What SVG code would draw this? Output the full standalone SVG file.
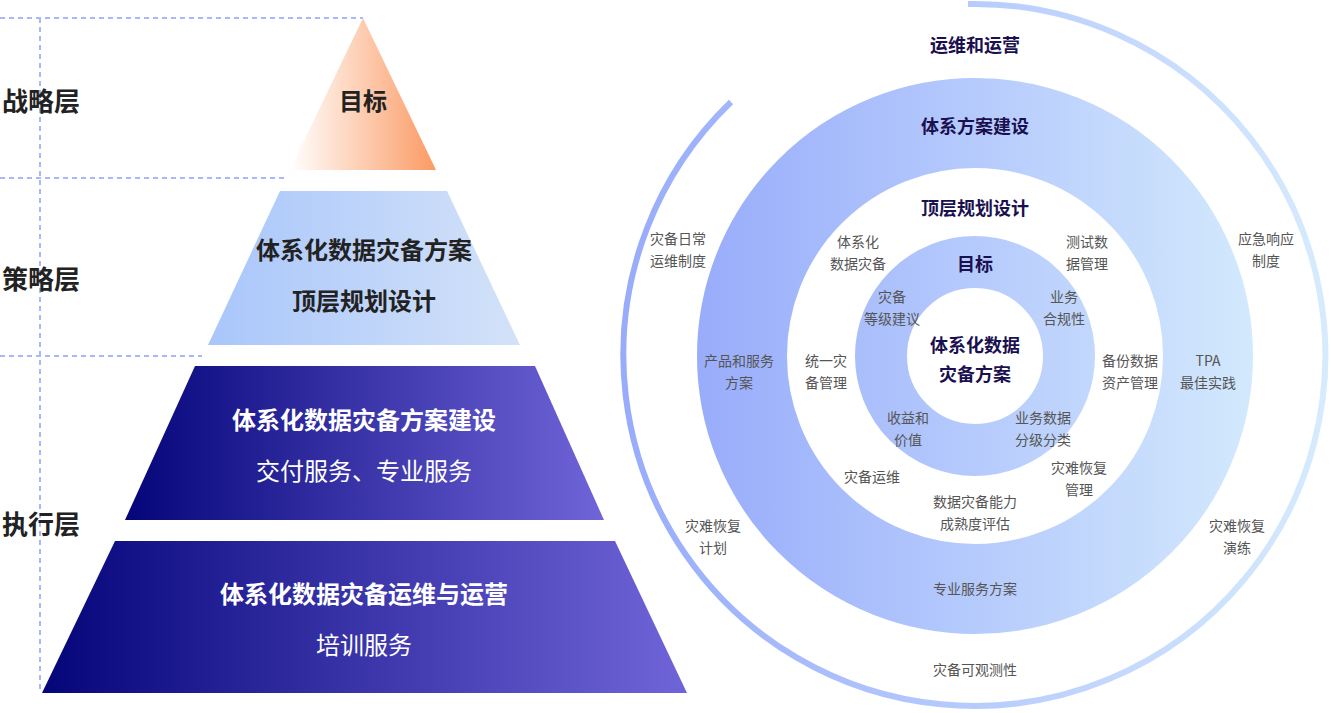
<svg xmlns="http://www.w3.org/2000/svg" width="1331" height="713" viewBox="0 0 1331 713">
<defs>
<linearGradient id="gOr" x1="0" y1="0" x2="1" y2="0"><stop offset="0" stop-color="#fff"/><stop offset="1" stop-color="#fb9a63"/></linearGradient>
<linearGradient id="gLb" x1="0" y1="0" x2="1" y2="0"><stop offset="0" stop-color="#a9c6fb"/><stop offset="1" stop-color="#d3e2f8"/></linearGradient>
<linearGradient id="gNv" x1="0" y1="0" x2="1" y2="0"><stop offset="0" stop-color="#05057a"/><stop offset="1" stop-color="#7065d8"/></linearGradient>
<linearGradient id="gRing" gradientUnits="userSpaceOnUse" x1="697" y1="0" x2="1253" y2="0"><stop offset="0" stop-color="#98acfb"/><stop offset="1" stop-color="#d3e9fd"/></linearGradient>
<linearGradient id="gArc" gradientUnits="userSpaceOnUse" x1="624" y1="0" x2="1326" y2="0"><stop offset="0" stop-color="#98acfb"/><stop offset="1" stop-color="#d6ebfd"/></linearGradient>
</defs>
<style>
.dash{stroke:#a9b8fa;stroke-width:2;stroke-dasharray:5 4;fill:none}
.lay{font:bold 26px "Noto Sans CJK SC",sans-serif;fill:#222}
.pt{font:bold 24px "Noto Sans CJK SC",sans-serif;text-anchor:middle}
.pn{font:24px "Noto Sans CJK SC",sans-serif;text-anchor:middle;fill:#fff}
.cb{font:bold 18px "Noto Sans CJK SC",sans-serif;text-anchor:middle;fill:#1a1050}
.cs{font:14px "Noto Sans CJK SC",sans-serif;text-anchor:middle;fill:#555}
</style>
<g id="guides">
<path class="dash" d="M0 18H363M0 178H287M0 356H202M40 18V693"/>
</g>
<g id="layer-labels">
<text class="lay" x="2" y="111">战略层</text>
<text class="lay" x="2" y="289">策略层</text>
<text class="lay" x="2" y="534">执行层</text>
</g>
<g id="pyr1"><polygon points="363,18 436,170 290,170" fill="url(#gOr)"/><text class="pt" x="363" y="110" fill="#222">目标</text></g>
<g id="pyr2"><polygon points="280,191 447,191 520,345 208,345" fill="url(#gLb)"/><text class="pt" x="364" y="259" fill="#222">体系化数据灾备方案</text><text class="pt" x="364" y="310" fill="#222">顶层规划设计</text></g>
<g id="pyr3"><polygon points="195,366 535,366 604,520 125,520" fill="url(#gNv)"/><text class="pt" x="364" y="429" fill="#fff">体系化数据灾备方案建设</text><text class="pn" x="364" y="480">交付服务、专业服务</text></g>
<g id="pyr4"><polygon points="115,541 615,541 687,693 42,693" fill="url(#gNv)"/><text class="pt" x="364" y="603" fill="#fff">体系化数据灾备运维与运营</text><text class="pn" x="364" y="654">培训服务</text></g>
<g id="outer-arc"><path d="M968 4A351 351 0 1 1 731 102" fill="none" stroke="url(#gArc)" stroke-width="6"/></g>
<g id="ring-outer"><circle cx="975" cy="356" r="233" fill="none" stroke="url(#gRing)" stroke-width="90"/></g>
<g id="ring-inner"><circle cx="975" cy="356" r="94" fill="none" stroke="url(#gRing)" stroke-width="52"/></g>
<g id="labels-outer">
<text class="cb" x="975" y="52">运维和运营</text>
<text class="cs" x="678" y="244">灾备日常</text><text class="cs" x="678" y="266">运维制度</text>
<text class="cs" x="1266" y="244">应急响应</text><text class="cs" x="1266" y="266">制度</text>
<text class="cs" x="713" y="531">灾难恢复</text><text class="cs" x="713" y="553">计划</text>
<text class="cs" x="1237" y="531">灾难恢复</text><text class="cs" x="1237" y="553">演练</text>
<text class="cs" x="975" y="675">灾备可观测性</text>
</g>
<g id="labels-ring">
<text class="cb" x="975" y="133">体系方案建设</text>
<text class="cs" x="739" y="366">产品和服务</text><text class="cs" x="739" y="388">方案</text>
<text class="cs" x="1208" y="366">TPA</text><text class="cs" x="1208" y="388">最佳实践</text>
<text class="cs" x="975" y="594">专业服务方案</text>
</g>
<g id="labels-mid">
<text class="cb" x="975" y="215">顶层规划设计</text>
<text class="cs" x="858" y="247">体系化</text><text class="cs" x="858" y="269">数据灾备</text>
<text class="cs" x="1087" y="247">测试数</text><text class="cs" x="1087" y="269">据管理</text>
<text class="cs" x="826" y="366">统一灾</text><text class="cs" x="826" y="388">备管理</text>
<text class="cs" x="1130" y="366">备份数据</text><text class="cs" x="1130" y="388">资产管理</text>
<text class="cs" x="872" y="482">灾备运维</text>
<text class="cs" x="1079" y="473">灾难恢复</text><text class="cs" x="1079" y="495">管理</text>
<text class="cs" x="975" y="507">数据灾备能力</text><text class="cs" x="975" y="529">成熟度评估</text>
</g>
<g id="labels-inner">
<text class="cb" x="975" y="271">目标</text>
<text class="cs" x="892" y="302">灾备</text><text class="cs" x="892" y="324">等级建议</text>
<text class="cs" x="1064" y="302">业务</text><text class="cs" x="1064" y="324">合规性</text>
<text class="cs" x="908" y="423">收益和</text><text class="cs" x="908" y="445">价值</text>
<text class="cs" x="1043" y="423">业务数据</text><text class="cs" x="1043" y="445">分级分类</text>
</g>
<g id="center">
<text class="cb" x="975" y="352">体系化数据</text>
<text class="cb" x="975" y="381">灾备方案</text>
</g>
</svg>
